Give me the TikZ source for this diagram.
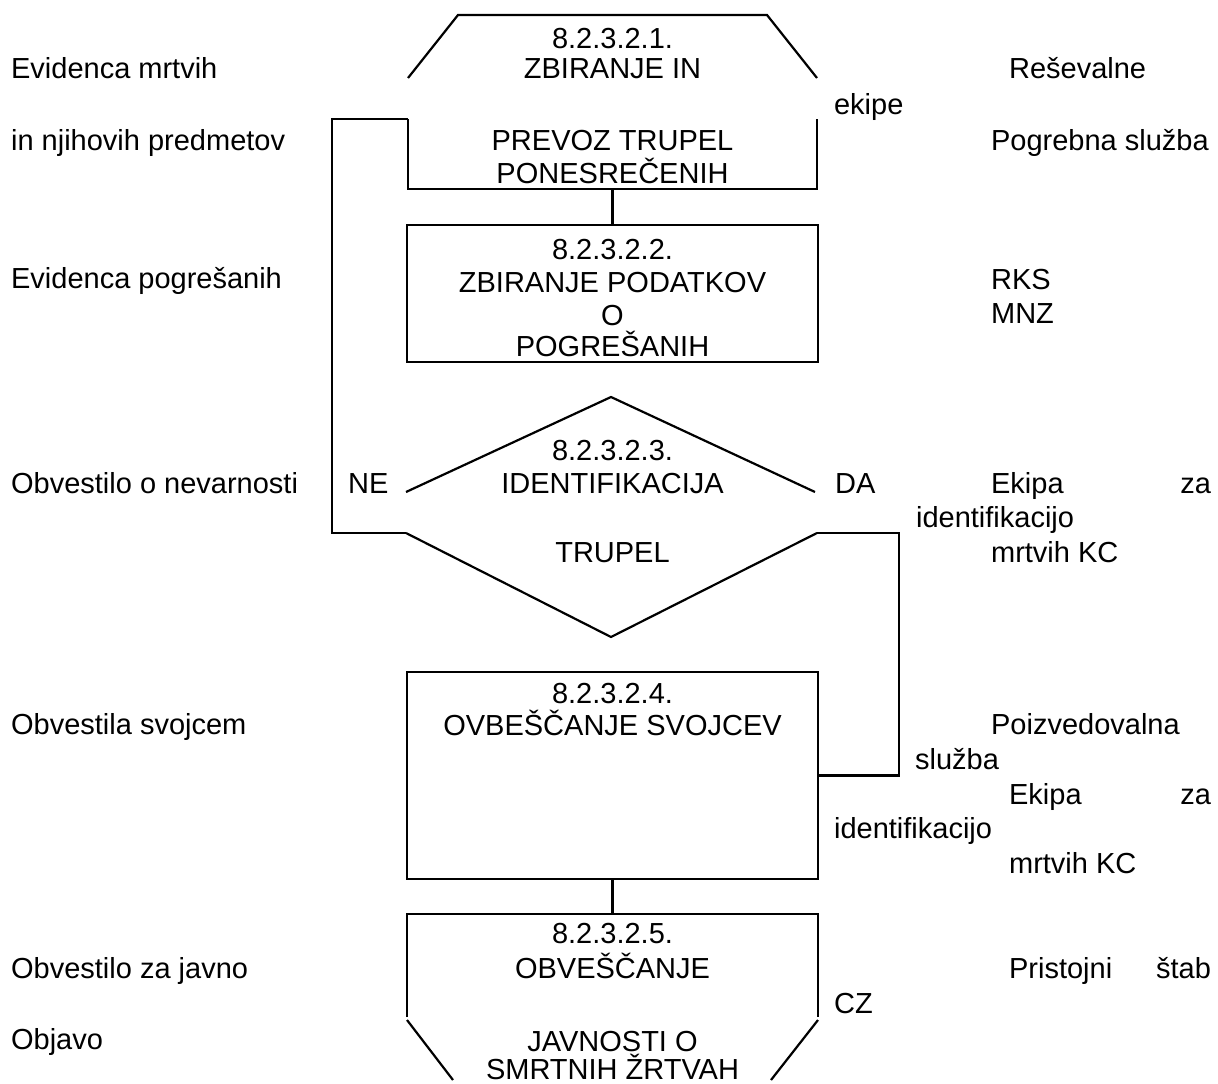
\documentclass[tikz,border=0pt]{standalone}
\usepackage{fontspec}
\setmainfont{Liberation Sans}
\newcommand\myfs{\fontsize{29}{33}\selectfont}
\begin{document}
\begin{tikzpicture}[x=1pt,y=-1pt,line width=2.2pt,line join=miter,
  tl/.style={anchor=base west,inner sep=0pt,font=\myfs},
  tr/.style={anchor=base east,inner sep=0pt,font=\myfs},
  tc/.style={anchor=base,inner sep=0pt,font=\myfs},
  boxn/.style={draw,inner sep=0pt,line width=2.2pt}]
\useasboundingbox (0,0) rectangle (1218,1084);

% ---- shape 1 (manual operation top) ----
\coordinate (s1a) at (408,78);
\coordinate (s1b) at (458,15);
\coordinate (s1c) at (767,15);
\coordinate (s1d) at (817,78);
\coordinate (s1e) at (408,119);
\coordinate (s1f) at (408,189);
\coordinate (s1g) at (817,189);
\coordinate (s1h) at (817,119);
\coordinate (s1bot) at (612.5,189);
\draw (s1a) -- (s1b) -- (s1c) -- (s1d);
\draw (s1e) -- (s1f) -- (s1g) -- (s1h);

% ---- box 2 ----
\node[boxn,minimum width=411pt,minimum height=137pt] (b2) at (612.5,293.5) {};

% ---- diamond 3 ----
\coordinate (dt) at (611,397);
\coordinate (dl1) at (406,492);
\coordinate (dr1) at (815,492);
\coordinate (dl2) at (406,533);
\coordinate (dr2) at (817,533);
\coordinate (db) at (611,637);
\draw (dl1) -- (dt) -- (dr1);
\draw (dl2) -- (db) -- (dr2);

% ---- box 4 ----
\node[boxn,minimum width=411pt,minimum height=207pt] (b4) at (612.5,775.5) {};

% ---- shape 5 ----
\coordinate (s5a) at (407,1017);
\coordinate (s5b) at (407,914);
\coordinate (s5c) at (818,914);
\coordinate (s5d) at (818,1017);
\coordinate (s5e) at (407,1020);
\coordinate (s5f) at (453,1080);
\coordinate (s5g) at (818,1020);
\coordinate (s5h) at (771,1080);
\coordinate (s5top) at (612.5,914);
\draw (s5a) -- (s5b) -- (s5c) -- (s5d);
\draw (s5e) -- (s5f);
\draw (s5g) -- (s5h);

% ---- connectors ----
\coordinate (lx) at (332,119);
\coordinate (rx) at (899,533);
\draw (s1bot) -- (b2.north);
\draw (b4.south) -- (s5top);
\draw (dl2) -| (lx) -- (s1e);
\draw (dr2) -- (rx) |- (b4.east);

% ---- centre texts ----
\node[tc] (t11) at (612.5,48) {8.2.3.2.1.};
\node[tc] (t12) at (612.5,78) {ZBIRANJE IN};
\node[tc] (t13) at (612.5,150) {PREVOZ TRUPEL};
\node[tc] (t14) at (612.5,183) {PONESREČENIH};
\node[tc] (t21) at (612.5,259) {8.2.3.2.2.};
\node[tc] (t22) at (612.5,292) {ZBIRANJE PODATKOV};
\node[tc] (t23) at (612.5,325) {O};
\node[tc] (t24) at (612.5,356) {POGREŠANIH};
\node[tc] (t31) at (612.5,460) {8.2.3.2.3.};
\node[tc] (t32) at (612.5,493) {IDENTIFIKACIJA};
\node[tc] (t33) at (612.5,562) {TRUPEL};
\node[tc] (t41) at (612.5,703) {8.2.3.2.4.};
\node[tc] (t42) at (612.5,735) {OVBEŠČANJE SVOJCEV};
\node[tc] (t51) at (612.5,943) {8.2.3.2.5.};
\node[tc] (t52) at (612.5,978) {OBVEŠČANJE};
\node[tc] (t53) at (612.5,1051) {JAVNOSTI O};
\node[tc] (t54) at (612.5,1079) {SMRTNIH ŽRTVAH};
\node[tl] (ne) at (347,493) {NE};
\node[tl] (da) at (834,493) {DA};

% ---- left column ----
\node[tl] (l1) at (10,78) {Evidenca mrtvih};
\node[tl] (l2) at (10,150) {in njihovih predmetov};
\node[tl] (l3) at (10,288) {Evidenca pogrešanih};
\node[tl] (l4) at (10,493) {Obvestilo o nevarnosti};
\node[tl] (l5) at (10,734) {Obvestila svojcem};
\node[tl] (l6) at (10,978) {Obvestilo za javno};
\node[tl] (l7) at (10,1049) {Objavo};

% ---- right column ----
\node[tl] (r1) at (1008,78) {Reševalne};
\node[tl] (r2) at (833,114) {ekipe};
\node[tl] (r3) at (990,150) {Pogrebna služba};
\node[tl] (r4) at (990,289) {RKS};
\node[tl] (r5) at (990,323) {MNZ};
\node[tl] (r6) at (990,493) {Ekipa};
\node[tr] (r6b) at (1212,493) {za};
\node[tl] (r7) at (915,527) {identifikacijo};
\node[tl] (r8) at (990,562) {mrtvih KC};
\node[tl] (r9) at (990,734) {Poizvedovalna};
\node[tl] (r10) at (914,769) {služba};
\node[tl] (r11) at (1008,804) {Ekipa};
\node[tr] (r11b) at (1212,804) {za};
\node[tl] (r12) at (833,838) {identifikacijo};
\node[tl] (r13) at (1008,873) {mrtvih KC};
\node[tl] (r14) at (1008,978) {Pristojni};
\node[tr] (r14b) at (1212,978) {štab};
\node[tl] (r15) at (833,1013) {CZ};
\end{tikzpicture}
\end{document}
